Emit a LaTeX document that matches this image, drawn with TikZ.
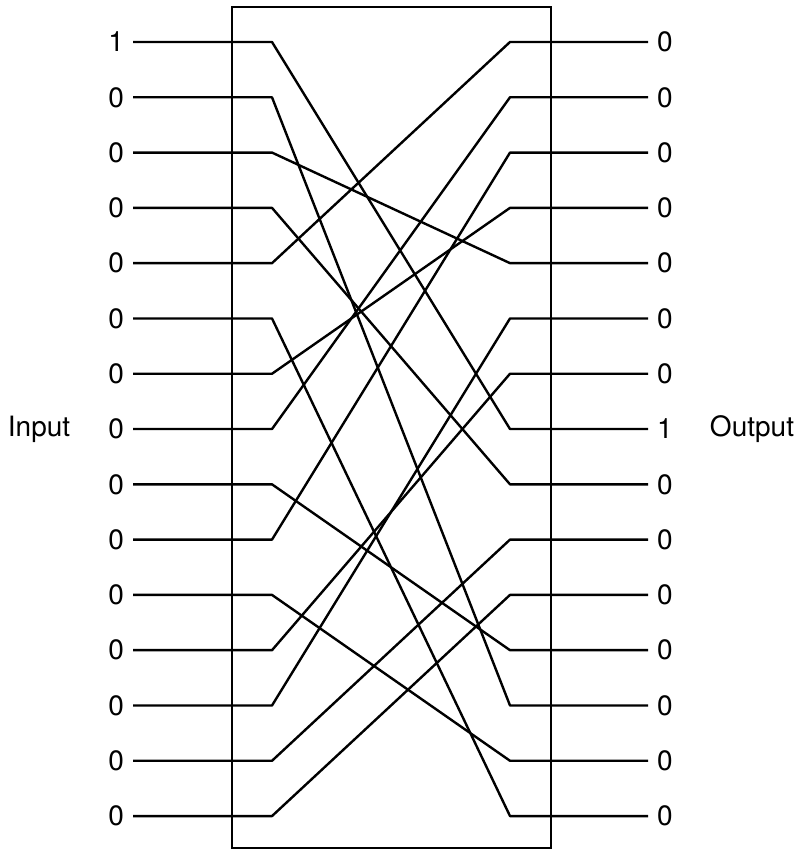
\documentclass[tikz,border=0pt]{standalone}
\usepackage{fontspec}
\setmainfont{TeX Gyre Heros}
\usetikzlibrary{positioning}

\begin{document}
\begin{tikzpicture}[
  x=0.75pt, y=-0.75pt,
  font=\fontsize{21}{25}\selectfont,
  wire/.style={line width=1.8pt, line join=round},
  frame/.style={draw, line width=1.6pt, minimum width=239.25pt, minimum height=630.75pt, inner sep=0pt},
  bit/.style={inner xsep=6.6pt, inner ysep=2pt},
]
\useasboundingbox (0,0) rectangle (800,852);

% the permutation box
\node[frame] (box) at (391.5,427.5) {};

% 15 rows: input bits on the left, output bits on the right
\foreach \k in {0,...,14} {
  \coordinate (l\k) at (272,{42+55.29*\k});
  \coordinate (r\k) at (510,{42+55.29*\k});
  \node[bit, anchor=east] (in\k) at (133,{42+55.29*\k}) {\ifnum\k=0 1\else 0\fi};
  \node[bit, anchor=west] (out\k) at (648,{42+55.29*\k}) {\ifnum\k=7 1\else 0\fi};
}

\node (inlab) at (39,429) {Input};
\node (outlab) at (752,429) {Output};

% wiring: input i -> output o
\foreach \i/\o in {0/7,1/12,2/4,3/8,4/0,5/14,6/3,7/1,8/11,9/2,10/13,11/6,12/5,13/9,14/10}
  \draw[wire] (in\i.east) -- (l\i) -- (r\o) -- (out\o.west);
\end{tikzpicture}
\end{document}
